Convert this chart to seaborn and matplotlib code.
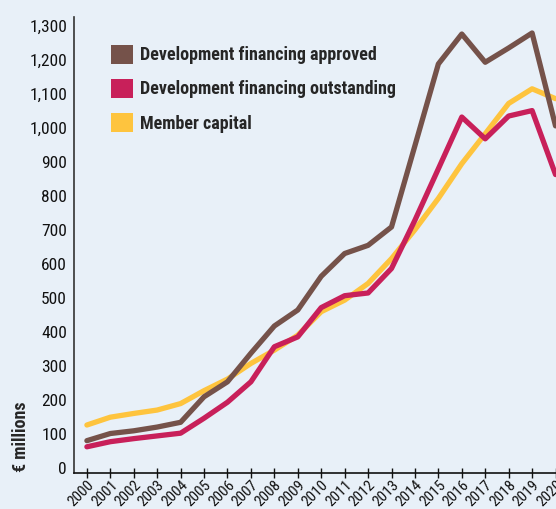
import matplotlib
matplotlib.use("Agg")
import matplotlib.pyplot as plt
from matplotlib.patches import Patch
from matplotlib.ticker import FuncFormatter
from matplotlib import font_manager
import pandas as pd
import seaborn as sns

# Values (EUR millions)
years = list(range(2000, 2021))
approved = [80, 101, 109, 120, 134, 209, 253, 337, 417, 464, 563, 630, 654, 708,
            947, 1187, 1275, 1192, 1234, 1278, 1005]
outstanding = [62, 77, 86, 94, 102, 146, 193, 253, 356, 385, 471, 506, 514, 586,
               728, 879, 1031, 967, 1034, 1050, 862]
capital = [126, 149, 160, 170, 189, 227, 261, 307, 346, 390, 459, 493, 542, 615,
           700, 792, 894, 982, 1071, 1114, 1085]
series_names = ["Development financing approved",
                "Development financing outstanding",
                "Member capital"]
colors = ["#75524a", "#c8205a", "#fec43e"]

bg = "#e8f0f8"
sns.set_style("ticks", {"axes.facecolor": bg, "figure.facecolor": bg})

# prefer a condensed face, like the reference
installed = {f.name for f in font_manager.fontManager.ttflist}
wanted = ["Roboto Condensed", "Liberation Sans Narrow", "Open Sans Condensed",
          "Roboto", "DejaVu Sans"]
fams = [f for f in wanted if f in installed] or ["DejaVu Sans"]
narrow = fams[0] not in ("Roboto", "DejaVu Sans")
plt.rcParams["font.family"] = fams

tick_size = 12.5 if narrow else 11.5
xtick_size = 11 if narrow else 9.5
leg_size = 13 if narrow else 11.5

df = pd.DataFrame({
    "year": years * 3,
    "value": approved + outstanding + capital,
    "series": [series_names[0]] * 21 + [series_names[1]] * 21 + [series_names[2]] * 21,
})

fig = plt.figure(figsize=(5.56, 5.09), dpi=100)
ax = fig.add_axes([74 / 556, 36 / 509, 482 / 556, 456 / 509])

# draw yellow first, brown last (as in the reference)
sns.lineplot(data=df, x="year", y="value", hue="series",
             hue_order=series_names[::-1], palette=colors[::-1],
             linewidth=3.8, legend=False, ax=ax)

ax.set_xlim(1999.45, 2020.02)
ax.set_ylim(-15, 1325)
ax.set_xticks(years)
ax.set_xticklabels([str(y) for y in years], rotation=45, ha="right",
                   rotation_mode="anchor", fontsize=xtick_size)
ax.set_yticks(range(0, 1301, 100))
ax.yaxis.set_major_formatter(FuncFormatter(lambda v, p: f"{v:,.0f}"))
ax.tick_params(axis="y", length=0, pad=5, labelsize=tick_size, colors="#111111")
ax.tick_params(axis="x", direction="inout", length=7, width=1, pad=0,
               colors="#111111")
ax.xaxis.get_major_ticks()[0].tick1line.set_color("#3050a0")

for s in ["top", "right"]:
    ax.spines[s].set_visible(False)
ax.spines["left"].set_color("#333333")
ax.spines["bottom"].set_color("#111111")
ax.spines["left"].set_linewidth(1.2)
ax.spines["bottom"].set_linewidth(1.2)

ax.set_xlabel("")
ax.set_ylabel("€ millions", fontsize=13, fontweight="bold")
ax.yaxis.set_label_coords(-0.092, 0.079)

handles = [Patch(facecolor=c, edgecolor="none") for c in colors]
ax.legend(handles, series_names, loc="upper left",
          bbox_to_anchor=((111 - 74) / 482, (473 - 45) / 456),
          frameon=False, borderpad=0, borderaxespad=0,
          handlelength=1.2, handleheight=1.2, handletextpad=0.4,
          labelspacing=0.82, prop={"weight": "bold", "size": leg_size})

fig.savefig("out.png", dpi=100, facecolor=bg)
